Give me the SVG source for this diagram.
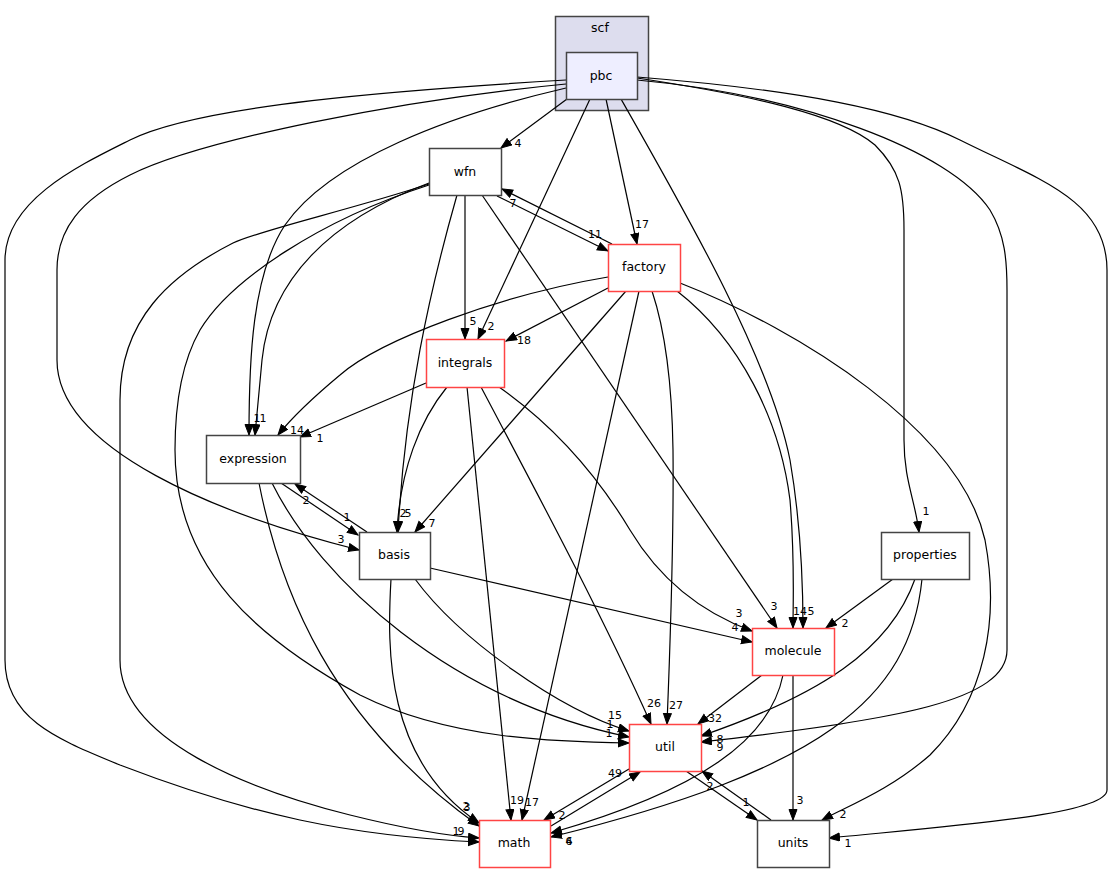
<svg xmlns="http://www.w3.org/2000/svg" width="1113" height="873" viewBox="0 0 1113 873">
<defs>
<marker id="ah" markerUnits="userSpaceOnUse" markerWidth="13" markerHeight="11" refX="11" refY="4.5" orient="auto">
<path d="M0.5,0.5 L11,4.5 L0.5,8.5 z" fill="#000" stroke="#000" stroke-width="1"/>
</marker>
<style>
.n rect{fill:#fff;stroke:#444;stroke-width:1.5}
.r rect{stroke:#ff4444}
text{font-family:"DejaVu Sans","Liberation Sans",sans-serif}
.n text{font-size:12.5px;text-anchor:middle;fill:#000}
#edges path{fill:none;stroke:#000;stroke-width:1.2;marker-end:url(#ah)}
.l{font-size:11px;text-anchor:middle;fill:#000}
</style>
</defs>
<rect width="1113" height="873" fill="#fff"/>
<g id="cluster_scf">
<rect x="555.5" y="16.5" width="93" height="94" fill="#ddddee" stroke="#444" stroke-width="1.5"/>
<text x="600" y="32" font-size="12.5" text-anchor="middle">scf</text>
</g>
<g id="edges">
<path d="M567,99 L501,148"/>
<path d="M590,99 L478,339"/>
<path d="M606,99 L637,244"/>
<path d="M621,99 C690,220 770,360 790,460 C802,530 803,590 803,628"/>
<path d="M566,88 C450,115 330,160 285,225 C252,275 249,360 249,435"/>
<path d="M566,84 C400,100 200,140 130,175 C80,200 57,230 57,270 L57,360 C57,450 220,515 359,550"/>
<path d="M566,80 C400,90 200,105 130,140 C80,165 5,200 5,260 L5,660 C5,720 60,740 120,765 C250,815 350,836 479,842"/>
<path d="M637,78 C750,95 840,115 875,145 C900,170 904,190 904,230 L904,440 C904,480 915,500 919,532"/>
<path d="M637,80 C800,95 950,150 990,210 C1005,235 1007,260 1007,290 L1007,650 C1007,700 900,720 701,742"/>
<path d="M637,77 C800,90 900,110 960,140 C1040,180 1107,200 1107,270 L1107,790 C1107,815 950,826 829,838"/>
<path d="M497,196 L608,251"/>
<path d="M612,244 L502,189"/>
<path d="M465,195 L465,339"/>
<path d="M457,195 C430,290 405,400 398,532"/>
<path d="M482,195 L777,628"/>
<path d="M429,183 C330,220 270,280 262,360 L255,435"/>
<path d="M429,185 C320,220 230,280 200,330 C180,365 175,410 175,450 C175,570 260,640 360,695 C450,740 560,742 629,743"/>
<path d="M429,184 C350,210 260,230 233,243 C170,275 120,320 120,400 L120,660 C120,740 250,790 350,815 C410,830 450,836 479,838"/>
<path d="M608,288 L506,341"/>
<path d="M608,277 C500,295 380,340 340,375 C310,400 290,420 278,435"/>
<path d="M626,291 L415,532"/>
<path d="M639,291 L522,820"/>
<path d="M652,291 C665,330 672,380 673,450 C674,550 670,650 667,724"/>
<path d="M677,291 C740,340 780,420 790,500 C795,560 793,600 793,628"/>
<path d="M680,283 C800,330 960,430 985,540 C1000,620 985,700 930,755 C890,790 850,805 822,820"/>
<path d="M426,383 L300,437"/>
<path d="M447,387 C420,420 400,470 397,532"/>
<path d="M467,387 L511,820"/>
<path d="M481,387 C530,480 600,610 651,724"/>
<path d="M499,387 C560,430 600,480 630,530 C660,580 700,612 752,631"/>
<path d="M430,568 L752,642"/>
<path d="M281,483 L358,535"/>
<path d="M367,532 L295,484"/>
<path d="M259,483 C280,590 330,720 479,826"/>
<path d="M391,579 C387,650 385,760 479,823"/>
<path d="M272,483 C320,580 450,700 629,737"/>
<path d="M415,579 C460,640 560,710 629,731"/>
<path d="M762,675 L698,724"/>
<path d="M793,675 L793,820"/>
<path d="M783,675 C770,740 700,790 551,833"/>
<path d="M922,579 C910,700 820,770 551,837"/>
<path d="M893,579 L826,628"/>
<path d="M915,579 C890,650 820,695 701,736"/>
<path d="M629,769 L544,820"/>
<path d="M551,826 L640,772"/>
<path d="M686,771 L757,820"/>
<path d="M771,820 L702,771"/>
</g>
<g id="labels">
<text class="l" x="518" y="147">4</text>
<text class="l" x="491" y="330">2</text>
<text class="l" x="642" y="228">17</text>
<text class="l" x="513" y="207">7</text>
<text class="l" x="595" y="238">11</text>
<text class="l" x="473" y="325">5</text>
<text class="l" x="524" y="344">18</text>
<text class="l" x="257" y="422">1</text>
<text class="l" x="263" y="422">1</text>
<text class="l" x="297" y="434">14</text>
<text class="l" x="320" y="442">1</text>
<text class="l" x="306" y="504">2</text>
<text class="l" x="347" y="521">1</text>
<text class="l" x="341" y="543">3</text>
<text class="l" x="403" y="517">2</text>
<text class="l" x="408" y="517">5</text>
<text class="l" x="432" y="527">7</text>
<text class="l" x="926" y="515">1</text>
<text class="l" x="845" y="627">2</text>
<text class="l" x="739" y="617">3</text>
<text class="l" x="735" y="631">4</text>
<text class="l" x="774" y="610">3</text>
<text class="l" x="800" y="615">14</text>
<text class="l" x="811" y="615">5</text>
<text class="l" x="654" y="707">26</text>
<text class="l" x="676" y="709">27</text>
<text class="l" x="715" y="722">32</text>
<text class="l" x="615" y="719">15</text>
<text class="l" x="610" y="728">1</text>
<text class="l" x="609" y="737">1</text>
<text class="l" x="720" y="743">8</text>
<text class="l" x="720" y="751">9</text>
<text class="l" x="615" y="777">49</text>
<text class="l" x="562" y="819">2</text>
<text class="l" x="710" y="790">2</text>
<text class="l" x="746" y="806">1</text>
<text class="l" x="800" y="804">3</text>
<text class="l" x="843" y="818">2</text>
<text class="l" x="848" y="847">1</text>
<text class="l" x="569" y="845">6</text>
<text class="l" x="569" y="845">4</text>
<text class="l" x="517" y="804">19</text>
<text class="l" x="532" y="806">17</text>
<text class="l" x="466" y="810">2</text>
<text class="l" x="467" y="811">3</text>
<text class="l" x="456" y="835">1</text>
<text class="l" x="461" y="835">9</text>
</g>
<g id="pbc" class="n"><rect x="566.5" y="52.5" width="71" height="47" style="fill:#eeeeff"/><text x="601" y="80">pbc</text></g>
<g id="wfn" class="n"><rect x="429.5" y="148.5" width="72" height="47"/><text x="465" y="176">wfn</text></g>
<g id="factory" class="n r"><rect x="608.5" y="244.5" width="72" height="47"/><text x="644" y="271">factory</text></g>
<g id="integrals" class="n r"><rect x="426.5" y="339.5" width="78" height="48"/><text x="465" y="367">integrals</text></g>
<g id="expression" class="n"><rect x="206.5" y="435.5" width="94" height="48"/><text x="253" y="463">expression</text></g>
<g id="basis" class="n"><rect x="359.5" y="532.5" width="71" height="47"/><text x="394" y="559">basis</text></g>
<g id="properties" class="n"><rect x="881.5" y="532.5" width="88" height="47"/><text x="925" y="559">properties</text></g>
<g id="molecule" class="n r"><rect x="752.5" y="628.5" width="82" height="47"/><text x="793" y="655">molecule</text></g>
<g id="util" class="n r"><rect x="629.5" y="724.5" width="72" height="47"/><text x="665" y="751">util</text></g>
<g id="math" class="n r"><rect x="479.5" y="820.5" width="71" height="47"/><text x="514" y="847">math</text></g>
<g id="units" class="n"><rect x="757.5" y="820.5" width="72" height="47"/><text x="793" y="847">units</text></g>
</svg>
